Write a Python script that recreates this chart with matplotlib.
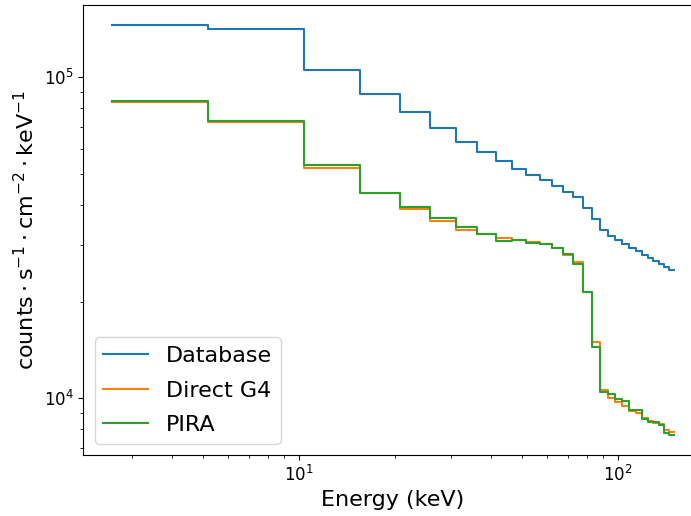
import numpy as np
import matplotlib
matplotlib.use("Agg")
import matplotlib.pyplot as plt

# bin edges (keV): half bin at the start, then 29 bins up to 150 keV
edges = [2.586] + list(np.linspace(0, 150, 30)[1:])

database = [1.451e5, 1.415e5, 1.051e5, 8.855e4, 7.805e4, 6.977e4, 6.31e4, 5.861e4,
            5.495e4, 5.19e4, 4.96e4, 4.775e4, 4.574e4, 4.381e4, 4.226e4, 3.906e4,
            3.61e4, 3.337e4, 3.203e4, 3.113e4, 3.018e4, 2.933e4, 2.877e4, 2.796e4,
            2.731e4, 2.679e4, 2.629e4, 2.566e4, 2.512e4]

direct_g4 = [8.373e4, 7.254e4, 5.227e4, 4.355e4, 3.886e4, 3.558e4, 3.354e4, 3.25e4,
             3.167e4, 3.113e4, 3.062e4, 3.025e4, 2.933e4, 2.79e4, 2.653e4, 2.145e4,
             1.5e4, 1.059e4, 1.002e4, 9.717e3, 9.487e3, 9.115e3, 8.986e3, 8.702e3,
             8.499e3, 8.378e3, 8.318e3, 7.987e3, 7.871e3]

pira = [8.446e4, 7.317e4, 5.344e4, 4.371e4, 3.934e4, 3.636e4, 3.41e4, 3.25e4,
        3.091e4, 3.113e4, 3.04e4, 3.025e4, 2.939e4, 2.816e4, 2.616e4, 2.145e4,
        1.447e4, 1.048e4, 1.031e4, 9.95e3, 9.787e3, 9.2e3, 9.2e3, 8.622e3,
        8.457e3, 8.421e3, 8.278e3, 7.782e3, 7.705e3]

fig = plt.figure(figsize=(6.91, 5.16), dpi=100)
ax = fig.add_axes([0.1207, 0.1182, 0.8952, 0.8721])

for vals, name in [(database, "Database"), (direct_g4, "Direct G4"), (pira, "PIRA")]:
    ax.step(edges, list(vals) + [vals[-1]], where="post", label=name, lw=1.5)

ax.set_xscale("log")
ax.set_yscale("log")
ax.set_xlabel("Energy (keV)", fontsize=16)
ax.set_ylabel(r"$\mathrm{counts}\cdot\mathrm{s}^{-1}\cdot\mathrm{cm}^{-2}\cdot\mathrm{keV}^{-1}$",
              fontsize=16)
ax.tick_params(labelsize=12)
ax.legend(loc="lower left", fontsize=16, labelspacing=0.65)

fig.savefig("out.png", dpi=100)
